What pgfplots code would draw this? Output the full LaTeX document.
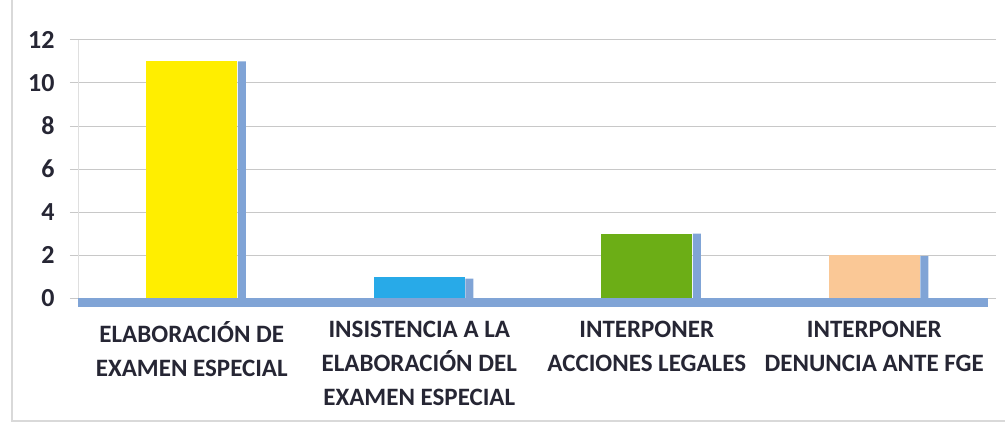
\documentclass[border=0pt]{standalone}
\usepackage{pgfplots}
\pgfplotsset{compat=1.18}
\usepackage{fontspec}
\setmainfont{Carlito}
\definecolor{txt}{RGB}{38,38,52}
\definecolor{cyel}{RGB}{255,238,0}
\definecolor{cblu}{RGB}{40,170,232}
\definecolor{cgrn}{RGB}{108,174,22}
\definecolor{cpch}{RGB}{250,200,150}
\definecolor{floor}{RGB}{128,164,214}
\definecolor{gridc}{RGB}{200,200,200}
\begin{document}
\begin{tikzpicture}
\useasboundingbox (-78pt,-125pt) rectangle (927pt,298pt);
\draw[gray!30, line width=1.2pt] (-66pt,298pt) -- (-66pt,-123pt) -- (927pt,-123pt);
\begin{axis}[
  at={(0pt,0pt)}, anchor=south west,
  scale only axis, width=910pt, height=258pt,
  xmin=-0.5, xmax=3.5, ymin=0, ymax=12,
  ytick={0,2,4,6,8,10,12},
  xtick={0,1,2,3},
  xticklabels={{ELABORACIÓN DE\\EXAMEN ESPECIAL},{INSISTENCIA A LA\\ELABORACIÓN DEL\\EXAMEN ESPECIAL},{INTERPONER\\ACCIONES LEGALES},{INTERPONER\\DENUNCIA ANTE FGE}},
  xticklabel style={font=\fontsize{25}{34}\selectfont\bfseries, text=txt, align=center, anchor=north, yshift=-12pt},
  yticklabel style={font=\fontsize{26}{30}\selectfont\bfseries, text=txt, xshift=-12pt},
  /pgf/number format/assume math mode=true,
  ymajorgrids, grid style={gridc, line width=1pt},
  axis line style={draw=none},
  major tick length=8pt,
  ytick style={gridc, line width=1pt},
  xtick style={draw=none},
  tick align=outside,
  ybar, bar width=0.40,
  clip=false,
]
\fill[floor] (axis cs:-0.5,0) rectangle (axis cs:3.5,-0.42);
\draw[gray!25, line width=0.8pt] (axis cs:-0.5,0) -- (axis cs:-0.5,12);
\addplot[bar shift=0.22, bar width=0.035, fill=floor, draw=none, forget plot] coordinates {(0,11) (1,0.9) (2,3) (3,1.95)};
\addplot[bar shift=0, fill=cyel, draw=none] coordinates {(0,11)};
\addplot[bar shift=0, fill=cblu, draw=none] coordinates {(1,1)};
\addplot[bar shift=0, fill=cgrn, draw=none] coordinates {(2,3)};
\addplot[bar shift=0, fill=cpch, draw=none] coordinates {(3,2)};
\end{axis}
\end{tikzpicture}
\end{document}
